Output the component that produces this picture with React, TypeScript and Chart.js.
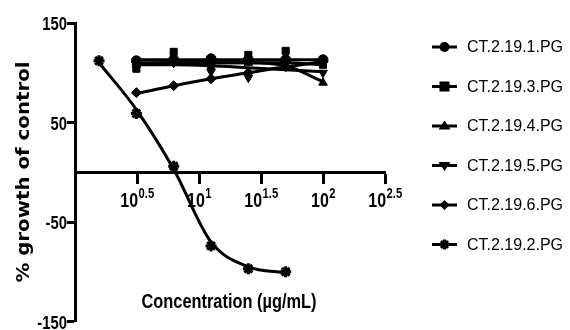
import React, { useEffect, useRef } from 'react';
import { Chart, registerables } from 'chart.js';
Chart.register(...registerables);

// ---- data (concentrations in µg/mL, % growth of control) ----
const concStar = [1.5625, 3.125, 6.25, 12.5, 25, 50];
const concOther = [3.125, 6.25, 12.5, 25, 50, 100];
// measured points
const ct1 = [112, 113, 114, 113, 113, 113];
const ct3 = [104, 121, 107, 118, 122, 108];
const ct4 = [108, 110, 110, 110, 112, 90];
const ct5 = [106, 110, 101, 95, 112, 100];
const ct6 = [80, 87, 94, 100, 106, 111];
const ct2 = [112, 59, 6, -74, -97, -100];
// fitted curves
const fit1 = [113, 113, 113, 113, 113, 113];
const fit3 = [109, 110, 110, 110, 110, 108];
const fit4 = [110, 110, 110, 110, 107, 91];
const fit5 = [108, 108, 107, 105, 103, 101];
const fit6 = [79, 87, 94, 100, 106, 111];
const fit2 = [110, 63, 3, -70, -95, -101];

const xTickExps = [0.5, 1, 1.5, 2, 2.5];
const xTickSup = ['0.5', '1', '1.5', '2', '2.5'];
const yTickValues = [-150, -50, 50, 150];
const seriesNames = ['CT.2.19.1.PG', 'CT.2.19.3.PG', 'CT.2.19.4.PG', 'CT.2.19.5.PG', 'CT.2.19.6.PG', 'CT.2.19.2.PG'];
const seriesStyles = ['circle', 'rect', 'triangle', 'triangleDown', 'rectRot', 'star'];
const xTitle = 'Concentration (µg/mL)';
const yTitle = '% growth of control';

const pts = (xs: number[], ys: number[]) => xs.map((x, i) => ({ x, y: ys[i] }));

function drawMarker(ctx: CanvasRenderingContext2D, style: string, x: number, y: number, r: number) {
  ctx.save();
  ctx.fillStyle = '#000';
  ctx.strokeStyle = '#000';
  ctx.beginPath();
  if (style === 'circle') {
    ctx.arc(x, y, r, 0, Math.PI * 2);
    ctx.fill();
  } else if (style === 'rect') {
    ctx.fillRect(x - r, y - r, 2 * r, 2 * r);
  } else if (style === 'triangle') {
    ctx.moveTo(x, y - r * 1.1);
    ctx.lineTo(x + r * 1.2, y + r * 0.7);
    ctx.lineTo(x - r * 1.2, y + r * 0.7);
    ctx.closePath();
    ctx.fill();
  } else if (style === 'triangleDown') {
    ctx.moveTo(x, y + r * 1.1);
    ctx.lineTo(x + r * 1.2, y - r * 0.7);
    ctx.lineTo(x - r * 1.2, y - r * 0.7);
    ctx.closePath();
    ctx.fill();
  } else if (style === 'rectRot') {
    ctx.moveTo(x, y - r);
    ctx.lineTo(x + r, y);
    ctx.lineTo(x, y + r);
    ctx.lineTo(x - r, y);
    ctx.closePath();
    ctx.fill();
  } else if (style === 'star') {
    ctx.lineWidth = 3;
    for (let k = 0; k < 4; k++) {
      const a = (k * Math.PI) / 4;
      ctx.moveTo(x - Math.cos(a) * r, y - Math.sin(a) * r);
      ctx.lineTo(x + Math.cos(a) * r, y + Math.sin(a) * r);
    }
    ctx.stroke();
  }
  ctx.restore();
}

function txt(ctx: CanvasRenderingContext2D, s: string, x: number, y: number, font: string, sx: number, align: CanvasTextAlign) {
  ctx.save();
  ctx.font = font;
  ctx.fillStyle = '#000';
  ctx.textAlign = align;
  ctx.textBaseline = 'alphabetic';
  ctx.translate(x, y);
  ctx.scale(sx, 1);
  ctx.fillText(s, 0, 0);
  ctx.restore();
}

const textPlugin = {
  id: 'customText',
  afterDraw(chart: any) {
    const ctx: CanvasRenderingContext2D = chart.ctx;
    const xs = chart.scales.x;
    const ys = chart.scales.y;
    const F = '"Liberation Sans", Arial, sans-serif';
    // y tick labels
    yTickValues.forEach((v) => {
      const py = ys.getPixelForValue(v);
      txt(ctx, String(v), 67, py + 7, `bold 19px ${F}`, 0.78, 'right');
    });
    // x tick labels with superscripts
    const zeroY = ys.getPixelForValue(0);
    xTickExps.forEach((e, i) => {
      const px = xs.getPixelForValue(Math.pow(10, e));
      ctx.save();
      ctx.font = `bold 20px ${F}`;
      const w1 = ctx.measureText('10').width * 0.8;
      ctx.font = `bold 14px ${F}`;
      const w2 = ctx.measureText(xTickSup[i]).width * 0.8;
      ctx.restore();
      const start = px - (w1 + w2) / 2;
      txt(ctx, '10', start, zeroY + 35, `bold 20px ${F}`, 0.8, 'left');
      txt(ctx, xTickSup[i], start + w1 + 0.5, zeroY + 26, `bold 14px ${F}`, 0.8, 'left');
    });
    // x title
    txt(ctx, xTitle, 229, 308, `bold 21px ${F}`, 0.78, 'center');
    // y title
    ctx.save();
    ctx.translate(29, 172);
    ctx.rotate(-Math.PI / 2);
    ctx.scale(1.1, 1);
    ctx.font = 'bold 18px "DejaVu Sans", sans-serif';
    ctx.fillStyle = '#000';
    ctx.textAlign = 'center';
    ctx.textBaseline = 'alphabetic';
    ctx.fillText(yTitle, 0, 0);
    ctx.restore();
    // legend
    seriesNames.forEach((name, i) => {
      const ry = 47 + i * 39.5;
      ctx.save();
      ctx.strokeStyle = '#000';
      ctx.lineWidth = 3;
      ctx.beginPath();
      ctx.moveTo(432, ry);
      ctx.lineTo(457, ry);
      ctx.stroke();
      ctx.restore();
      drawMarker(ctx, seriesStyles[i], 444.5, ry, 5);
      ctx.save();
      ctx.font = `16px ${F}`;
      ctx.fillStyle = '#000';
      ctx.textBaseline = 'middle';
      ctx.textAlign = 'left';
      ctx.fillText(name, 467, ry + 1);
      ctx.restore();
    });
  },
};

const pointSet = (xs: number[], ys: number[], style: string) => ({
  data: pts(xs, ys),
  showLine: false,
  borderColor: '#000',
  backgroundColor: '#000',
  pointStyle: style === 'triangleDown' ? 'triangle' : style,
  rotation: style === 'triangleDown' ? 180 : 0,
  pointRadius: style === 'star' ? 5.5 : 5,
  pointBorderWidth: style === 'star' ? 3 : 1,
  pointBorderColor: '#000',
  pointBackgroundColor: '#000',
});

const fitSet = (xs: number[], ys: number[]) => ({
  data: pts(xs, ys),
  showLine: true,
  borderColor: '#000',
  borderWidth: 3,
  pointRadius: 0,
  cubicInterpolationMode: 'monotone',
});

export default function App() {
  const ref = useRef<HTMLCanvasElement>(null);
  useEffect(() => {
    document.body.style.margin = '0';
    const datasets = [
      fitSet(concOther, fit1),
      fitSet(concOther, fit3),
      fitSet(concOther, fit4),
      fitSet(concOther, fit5),
      fitSet(concOther, fit6),
      fitSet(concStar, fit2),
      pointSet(concOther, ct1, 'circle'),
      pointSet(concOther, ct3, 'rect'),
      pointSet(concOther, ct4, 'triangle'),
      pointSet(concOther, ct5, 'triangleDown'),
      pointSet(concOther, ct6, 'rectRot'),
      pointSet(concStar, ct2, 'star'),
    ];
    const chart = new Chart(ref.current!, {
      type: 'scatter',
      data: { datasets: datasets as any },
      plugins: [textPlugin],
      options: {
        animation: false,
        responsive: false,
        devicePixelRatio: 1,
        layout: { padding: { top: 23, bottom: 7, left: 0, right: 185 } },
        plugins: { legend: { display: false }, tooltip: { enabled: false } },
        scales: {
          x: {
            type: 'logarithmic',
            min: 1,
            max: Math.pow(10, 2.5),
            position: { y: 0 } as any,
            afterBuildTicks: (s: any) => {
              s.ticks = xTickExps.map((e) => ({ value: Math.pow(10, e) }));
            },
            afterFit: (s: any) => {
              s.height = 0;
            },
            ticks: { display: false },
            grid: { drawOnChartArea: false, drawTicks: true, tickLength: 10, tickWidth: 3, tickColor: '#000' },
            border: { display: true, color: '#000', width: 3 },
          },
          y: {
            type: 'linear',
            min: -150,
            max: 150,
            ticks: { display: false, stepSize: 100 },
            afterFit: (s: any) => {
              s.width = 75;
            },
            grid: { drawOnChartArea: false, drawTicks: true, tickLength: 8, tickWidth: 3, tickColor: '#000' },
            border: { display: true, color: '#000', width: 3 },
          },
        },
      },
    });
    return () => chart.destroy();
  }, []);
  return <canvas ref={ref} width={570} height={330} style={{ display: 'block' }} />;
}
